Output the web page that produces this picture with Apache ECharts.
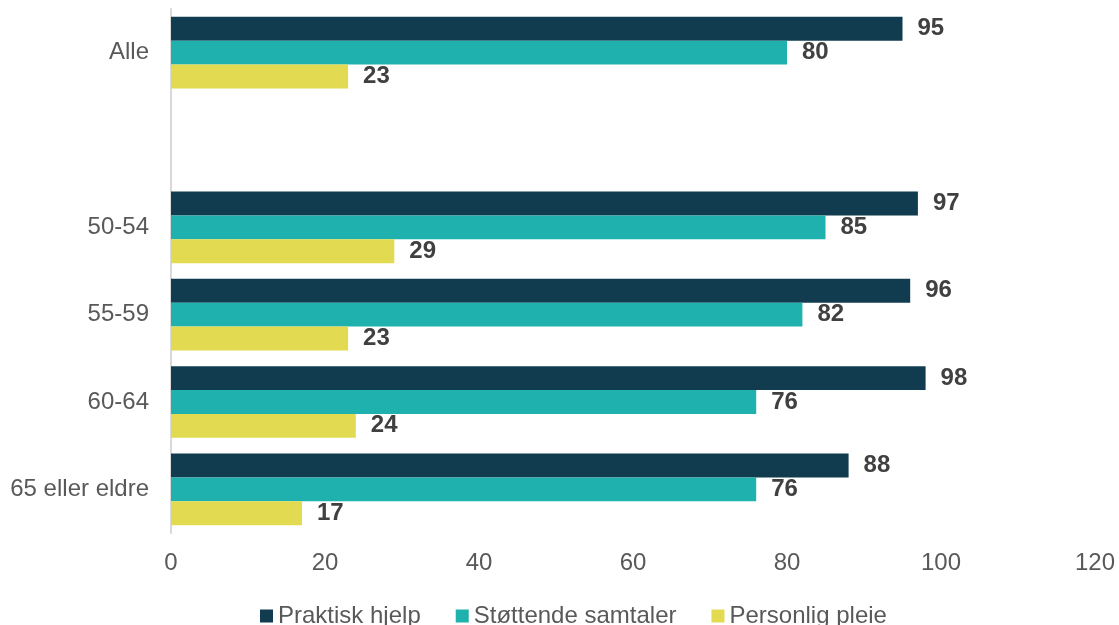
<!DOCTYPE html>
<html><head><meta charset="utf-8">
<script src="https://cdn.jsdelivr.net/npm/echarts@6/dist/echarts.min.js"></script>
<style>html,body{margin:0;padding:0;background:#fff}#c{width:1119px;height:625px}</style>
</head><body><div id="c"></div>
<script>
const categories = ['Alle', '', '50-54', '55-59', '60-64', '65 eller eldre'];
const praktiskHjelp = [95, '-', 97, 96, 98, 88];
const stottendeSamtaler = [80, '-', 85, 82, 76, 76];
const personligPleie = [23, '-', 29, 23, 24, 17];
const xTicks = { min: 0, max: 120, interval: 20 };

const FONT = '"Liberation Sans", Arial, sans-serif';
const chart = echarts.init(document.getElementById('c'), null, { renderer: 'canvas' });
const lbl = { show: true, position: 'right', distance: 15, color: '#404040', fontWeight: 'bold', fontSize: 24, fontFamily: FONT };
function s(name, data, color) {
  return { name, type: 'bar', data, itemStyle: { color }, label: lbl, barGap: '0%', barCategoryGap: '18%' };
}
chart.setOption({
  animation: false,
  textStyle: { fontFamily: FONT },
  grid: { left: 171, right: 24, top: 9, bottom: 92, containLabel: false },
  legend: {
    left: 255, top: 599, itemWidth: 13, itemHeight: 13, itemGap: 35,
    icon: 'rect',
    textStyle: { color: '#595959', fontSize: 24, fontFamily: FONT },
    data: ['Praktisk hjelp', 'Støttende samtaler', 'Personlig pleie']
  },
  xAxis: {
    type: 'value', min: xTicks.min, max: xTicks.max, interval: xTicks.interval,
    axisLine: { show: false }, axisTick: { show: false }, splitLine: { show: false },
    axisLabel: { color: '#595959', fontSize: 24, margin: 18, fontFamily: FONT }
  },
  yAxis: {
    type: 'category', data: categories, inverse: true,
    axisLine: { show: true, lineStyle: { color: '#D9D9D9', width: 2 } },
    axisTick: { show: false },
    axisLabel: { color: '#595959', fontSize: 24, margin: 22, fontFamily: FONT, padding: [4, 0, 0, 0] }
  },
  series: [
    s('Praktisk hjelp', praktiskHjelp, '#113C4F'),
    s('Støttende samtaler', stottendeSamtaler, '#1FB1AE'),
    s('Personlig pleie', personligPleie, '#E2DA50')
  ]
});
</script></body></html>
